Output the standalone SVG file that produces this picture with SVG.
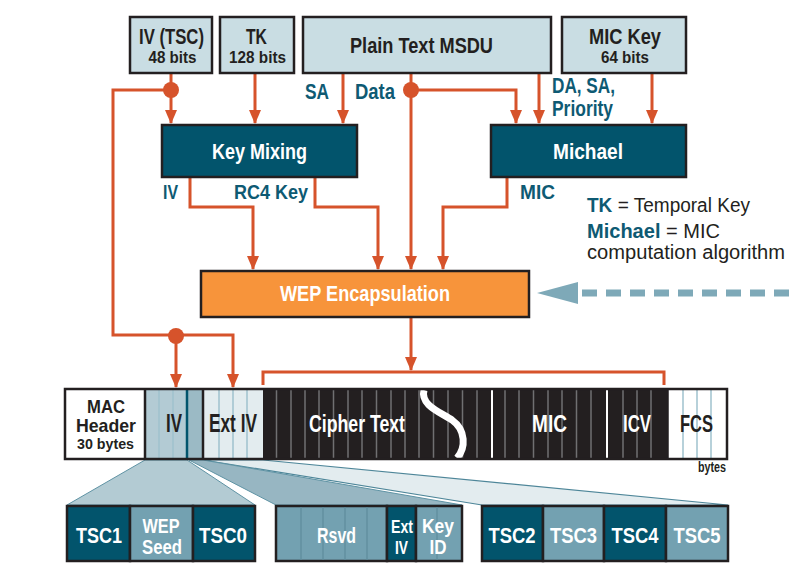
<svg xmlns="http://www.w3.org/2000/svg" width="791" height="563" viewBox="0 0 791 563">
<defs>
<style>
.f{font-family:"Liberation Sans Narrow","Liberation Sans",Arial,sans-serif;font-weight:bold}
.n{font-weight:normal}
.box{fill:#c9dde3;stroke:#231f20;stroke-width:2.5}
.proc{fill:#02546c;stroke:#231f20;stroke-width:2.5}
.wep{fill:#f7943b;stroke:#231f20;stroke-width:2.5}
.wire{fill:none;stroke:#d6532b;stroke-width:3}
.dot{fill:#d6532b}
.dk{fill:#231f20}
.wt{fill:#ffffff}
.lb{fill:#0e5a73}
.cell{stroke:#231f20;stroke-width:2.5}
.cd{fill:#02546c}
.cm{fill:#73a1b1}
.gs{stroke:#707072;stroke-width:1.5}
.bs{stroke:#9fc2ce;stroke-width:1.5}
.ms{stroke:#5e8c9c;stroke-width:1.2}
</style>
<marker id="ah" viewBox="0 0 14 12" refX="13" refY="6" markerWidth="14" markerHeight="12" markerUnits="userSpaceOnUse" orient="auto">
<path d="M0,0 L14,6 L0,12 z" fill="#d6532b"/>
</marker>
</defs>
<rect width="791" height="563" fill="#ffffff"/>

<!-- fans -->
<g id="fans">
<polygon points="145,460 187,460 255,505 67,505" fill="#b3cbd3" stroke="#5f93a4" stroke-width="1"/>
<polygon points="203,460 263,460 728,505 482,505" fill="#e3ecef" stroke="#4e8699" stroke-width="1.2"/>
<polygon points="189,460 203,460 462,505 276,505" fill="#97b6c2" stroke="#5f93a4" stroke-width="1"/>
</g>

<!-- connectors -->
<g id="connectors">
<path class="wire" d="M171,73 V123" marker-end="url(#ah)"/>
<path class="wire" d="M171,90 H113 V335 H233 V387" marker-end="url(#ah)"/>
<path class="wire" d="M176,335 V387" marker-end="url(#ah)"/>
<path class="wire" d="M255,73 V123" marker-end="url(#ah)"/>
<path class="wire" d="M343,73 V123" marker-end="url(#ah)"/>
<path class="wire" d="M411,73 V269" marker-end="url(#ah)"/>
<path class="wire" d="M411,90 H516 V123" marker-end="url(#ah)"/>
<path class="wire" d="M539,73 V123" marker-end="url(#ah)"/>
<path class="wire" d="M652,73 V123" marker-end="url(#ah)"/>
<path class="wire" d="M190,177 V207 H253 V269" marker-end="url(#ah)"/>
<path class="wire" d="M315,177 V207 H378 V269" marker-end="url(#ah)"/>
<path class="wire" d="M507,177 V207 H443 V269" marker-end="url(#ah)"/>
<path class="wire" d="M411,317 V370" marker-end="url(#ah)"/>
<path class="wire" d="M263,385 V372 H664 V385"/>
<circle class="dot" cx="171" cy="90" r="8"/>
<circle class="dot" cx="411" cy="90" r="8"/>
<circle class="dot" cx="176" cy="336" r="8"/>
<polygon points="537,293 578,282 578,304" fill="#7ea9b8"/>
<path d="M582,293 H791" stroke="#7ea9b8" stroke-width="7" stroke-dasharray="15 9" fill="none"/>
<text class="f lb" x="305" y="99" font-size="22" textLength="24" lengthAdjust="spacingAndGlyphs">SA</text>
<text class="f lb" x="355" y="99" font-size="22" textLength="40" lengthAdjust="spacingAndGlyphs">Data</text>
<text class="f lb" x="552" y="93" font-size="22" textLength="63" lengthAdjust="spacingAndGlyphs">DA, SA,</text>
<text class="f lb" x="552" y="116" font-size="22" textLength="61" lengthAdjust="spacingAndGlyphs">Priority</text>
<text class="f lb" x="163" y="199" font-size="20" textLength="15" lengthAdjust="spacingAndGlyphs">IV</text>
<text class="f lb" x="234" y="199" font-size="20" textLength="74" lengthAdjust="spacingAndGlyphs">RC4 Key</text>
<text class="f lb" x="520" y="199" font-size="20" textLength="35" lengthAdjust="spacingAndGlyphs">MIC</text>
</g>

<!-- top nodes -->
<g id="iv-tsc">
<rect class="box" x="130" y="17" width="82" height="56"/>
<text class="f dk" x="171.5" y="44" font-size="22" text-anchor="middle" textLength="65" lengthAdjust="spacingAndGlyphs">IV (TSC)</text>
<text class="f dk" x="172.5" y="63" font-size="16" text-anchor="middle" textLength="48" lengthAdjust="spacingAndGlyphs">48 bits</text>
</g>
<g id="tk">
<rect class="box" x="220" y="17" width="74" height="56"/>
<text class="f dk" x="256.5" y="44" font-size="22" text-anchor="middle" textLength="21" lengthAdjust="spacingAndGlyphs">TK</text>
<text class="f dk" x="257.5" y="63" font-size="16" text-anchor="middle" textLength="57" lengthAdjust="spacingAndGlyphs">128 bits</text>
</g>
<g id="plain-text">
<rect class="box" x="303" y="17" width="248" height="56"/>
<text class="f dk" x="421.5" y="53" font-size="22" text-anchor="middle" textLength="143" lengthAdjust="spacingAndGlyphs">Plain Text MSDU</text>
</g>
<g id="mic-key">
<rect class="box" x="562" y="17" width="124" height="56"/>
<text class="f dk" x="625" y="44" font-size="22" text-anchor="middle" textLength="72" lengthAdjust="spacingAndGlyphs">MIC Key</text>
<text class="f dk" x="625" y="63" font-size="16" text-anchor="middle" textLength="48" lengthAdjust="spacingAndGlyphs">64 bits</text>
</g>

<g id="key-mixing">
<rect class="proc" x="162" y="125" width="195" height="52"/>
<text class="f wt" x="259.5" y="159" font-size="22" text-anchor="middle" textLength="95" lengthAdjust="spacingAndGlyphs">Key Mixing</text>
</g>
<g id="michael">
<rect class="proc" x="491" y="125" width="195" height="52"/>
<text class="f wt" x="588" y="159" font-size="22" text-anchor="middle" textLength="70" lengthAdjust="spacingAndGlyphs">Michael</text>
</g>
<g id="wep-encapsulation">
<rect class="wep" x="201" y="271" width="328" height="46"/>
<text class="f wt" x="365" y="301" font-size="22" text-anchor="middle" textLength="170" lengthAdjust="spacingAndGlyphs">WEP Encapsulation</text>
</g>

<g id="legend">
<text class="f n dk" x="587" y="212" font-size="20" textLength="163" lengthAdjust="spacingAndGlyphs"><tspan class="lb" font-weight="bold">TK</tspan> = Temporal Key</text>
<text class="f n dk" x="587" y="238" font-size="20" textLength="133" lengthAdjust="spacingAndGlyphs"><tspan class="lb" font-weight="bold">Michael</tspan> = MIC</text>
<text class="f n dk" x="587" y="259" font-size="20" textLength="198" lengthAdjust="spacingAndGlyphs">computation algorithm</text>
</g>

<!-- frame -->
<g id="frame">
<rect x="65" y="389" width="80" height="70" fill="#ffffff"/>
<rect x="145" y="389" width="42" height="70" fill="#b3cbd4"/>
<rect x="187" y="389" width="16" height="70" fill="#9bbac5"/>
<line class="bs" x1="159" y1="389" x2="159" y2="459" stroke="#8fb2bf"/>
<line class="bs" x1="173" y1="389" x2="173" y2="459" stroke="#8fb2bf"/>
<line x1="187" y1="389" x2="187" y2="459" stroke="#02546c" stroke-width="2.5"/>
<rect x="203" y="389" width="60" height="70" fill="#e3ecef"/>
<line class="bs" x1="219" y1="389" x2="219" y2="459"/>
<line class="bs" x1="233" y1="389" x2="233" y2="459"/>
<line class="bs" x1="247" y1="389" x2="247" y2="459"/>
<rect x="263" y="389" width="405" height="70" fill="#231f20"/>
<g class="gs">
<line x1="276.5" y1="389" x2="276.5" y2="459"/><line x1="291" y1="389" x2="291" y2="459"/>
<line x1="305" y1="389" x2="305" y2="459"/><line x1="319" y1="389" x2="319" y2="459"/>
<line x1="333.5" y1="389" x2="333.5" y2="459"/><line x1="348" y1="389" x2="348" y2="459"/>
<line x1="362" y1="389" x2="362" y2="459"/><line x1="376.5" y1="389" x2="376.5" y2="459"/>
<line x1="391" y1="389" x2="391" y2="459"/><line x1="405" y1="389" x2="405" y2="459"/>
<line x1="419" y1="389" x2="419" y2="459"/><line x1="433.5" y1="389" x2="433.5" y2="459"/>
<line x1="448" y1="389" x2="448" y2="459"/><line x1="462.5" y1="389" x2="462.5" y2="459"/>
<line x1="477" y1="389" x2="477" y2="459"/>
<line x1="505" y1="389" x2="505" y2="459"/><line x1="519" y1="389" x2="519" y2="459"/>
<line x1="533.5" y1="389" x2="533.5" y2="459"/><line x1="548" y1="389" x2="548" y2="459"/>
<line x1="562" y1="389" x2="562" y2="459"/><line x1="576.5" y1="389" x2="576.5" y2="459"/>
<line x1="591" y1="389" x2="591" y2="459"/>
<line x1="623" y1="389" x2="623" y2="459"/><line x1="637" y1="389" x2="637" y2="459"/>
<line x1="651" y1="389" x2="651" y2="459"/>
</g>
<line x1="492" y1="389" x2="492" y2="462" stroke="#ffffff" stroke-width="2"/>
<line x1="607" y1="389" x2="607" y2="462" stroke="#ffffff" stroke-width="2"/>
<path d="M424,390 C420,405 440,412 452,420 C466,430 466,448 457,458" fill="none" stroke="#ffffff" stroke-width="7"/>
<rect x="668" y="389" width="59" height="70" fill="#ffffff"/>
<line class="bs" x1="683" y1="389" x2="683" y2="459" stroke="#8bb5c4"/>
<line class="bs" x1="697" y1="389" x2="697" y2="459" stroke="#8bb5c4"/>
<line class="bs" x1="711" y1="389" x2="711" y2="459" stroke="#8bb5c4"/>
<line x1="145" y1="389" x2="145" y2="459" stroke="#231f20" stroke-width="2.5"/>
<line x1="203" y1="389" x2="203" y2="459" stroke="#231f20" stroke-width="2.5"/>
<line x1="668" y1="389" x2="668" y2="459" stroke="#231f20" stroke-width="1.5"/>
<rect x="65" y="389" width="662" height="70" fill="none" stroke="#231f20" stroke-width="2.5"/>
<text class="f dk" x="106" y="413" font-size="19" text-anchor="middle" textLength="38" lengthAdjust="spacingAndGlyphs">MAC</text>
<text class="f dk" x="106" y="432" font-size="19" text-anchor="middle" textLength="60" lengthAdjust="spacingAndGlyphs">Header</text>
<text class="f dk" x="105.5" y="449" font-size="15" text-anchor="middle" textLength="57" lengthAdjust="spacingAndGlyphs">30 bytes</text>
<text class="f dk" x="174" y="432" font-size="25" text-anchor="middle" textLength="16" lengthAdjust="spacingAndGlyphs">IV</text>
<text class="f dk" x="233" y="432" font-size="25" text-anchor="middle" textLength="48" lengthAdjust="spacingAndGlyphs">Ext IV</text>
<text class="f wt" x="357" y="432" font-size="23" text-anchor="middle" textLength="96" lengthAdjust="spacingAndGlyphs">Cipher Text</text>
<text class="f wt" x="549.5" y="432" font-size="23" text-anchor="middle" textLength="35" lengthAdjust="spacingAndGlyphs">MIC</text>
<text class="f wt" x="637" y="432" font-size="23" text-anchor="middle" textLength="28" lengthAdjust="spacingAndGlyphs">ICV</text>
<text class="f dk" x="696.5" y="432" font-size="23" text-anchor="middle" textLength="33" lengthAdjust="spacingAndGlyphs">FCS</text>
<text class="f dk" x="712" y="472" font-size="14" text-anchor="middle" textLength="28" lengthAdjust="spacingAndGlyphs">bytes</text>
</g>

<!-- bottom field groups -->
<g id="iv-fields">
<rect class="cell cd" x="67" y="506" width="63" height="55"/>
<rect class="cell cm" x="130" y="506" width="63" height="55"/>
<rect class="cell cd" x="193" y="506" width="62" height="55"/>
<text class="f wt" x="99" y="543" font-size="22" text-anchor="middle" textLength="46" lengthAdjust="spacingAndGlyphs">TSC1</text>
<text class="f wt" x="161" y="533" font-size="20" text-anchor="middle" textLength="37" lengthAdjust="spacingAndGlyphs">WEP</text>
<text class="f wt" x="162" y="554" font-size="20" text-anchor="middle" textLength="40" lengthAdjust="spacingAndGlyphs">Seed</text>
<text class="f wt" x="223" y="543" font-size="22" text-anchor="middle" textLength="48" lengthAdjust="spacingAndGlyphs">TSC0</text>
</g>
<g id="keyid-fields">
<rect class="cell cm" x="276" y="506" width="111" height="55"/>
<line class="ms" x1="301" y1="507" x2="301" y2="560"/>
<line class="ms" x1="323" y1="507" x2="323" y2="560"/>
<line class="ms" x1="345" y1="507" x2="345" y2="560"/>
<line class="ms" x1="367" y1="507" x2="367" y2="560"/>
<rect class="cell cd" x="387" y="506" width="29" height="55"/>
<rect class="cell cm" x="416" y="506" width="46" height="55"/>
<line class="ms" x1="437" y1="507" x2="437" y2="560"/>
<text class="f wt" x="336.5" y="543" font-size="22" text-anchor="middle" textLength="39" lengthAdjust="spacingAndGlyphs">Rsvd</text>
<text class="f wt" x="402" y="533" font-size="19" text-anchor="middle" textLength="22" lengthAdjust="spacingAndGlyphs">Ext</text>
<text class="f wt" x="401.5" y="554" font-size="19" text-anchor="middle" textLength="13" lengthAdjust="spacingAndGlyphs">IV</text>
<text class="f wt" x="438" y="533" font-size="20" text-anchor="middle" textLength="32" lengthAdjust="spacingAndGlyphs">Key</text>
<text class="f wt" x="438" y="554" font-size="20" text-anchor="middle" textLength="17" lengthAdjust="spacingAndGlyphs">ID</text>
</g>
<g id="ext-iv-fields">
<rect class="cell cd" x="482" y="506" width="61" height="55"/>
<rect class="cell cm" x="543" y="506" width="61" height="55"/>
<rect class="cell cd" x="604" y="506" width="62" height="55"/>
<rect class="cell cm" x="666" y="506" width="62" height="55"/>
<text class="f wt" x="512" y="543" font-size="22" text-anchor="middle" textLength="47" lengthAdjust="spacingAndGlyphs">TSC2</text>
<text class="f wt" x="573.5" y="543" font-size="22" text-anchor="middle" textLength="47" lengthAdjust="spacingAndGlyphs">TSC3</text>
<text class="f wt" x="635" y="543" font-size="22" text-anchor="middle" textLength="47" lengthAdjust="spacingAndGlyphs">TSC4</text>
<text class="f wt" x="697" y="543" font-size="22" text-anchor="middle" textLength="47" lengthAdjust="spacingAndGlyphs">TSC5</text>
</g>
</svg>
